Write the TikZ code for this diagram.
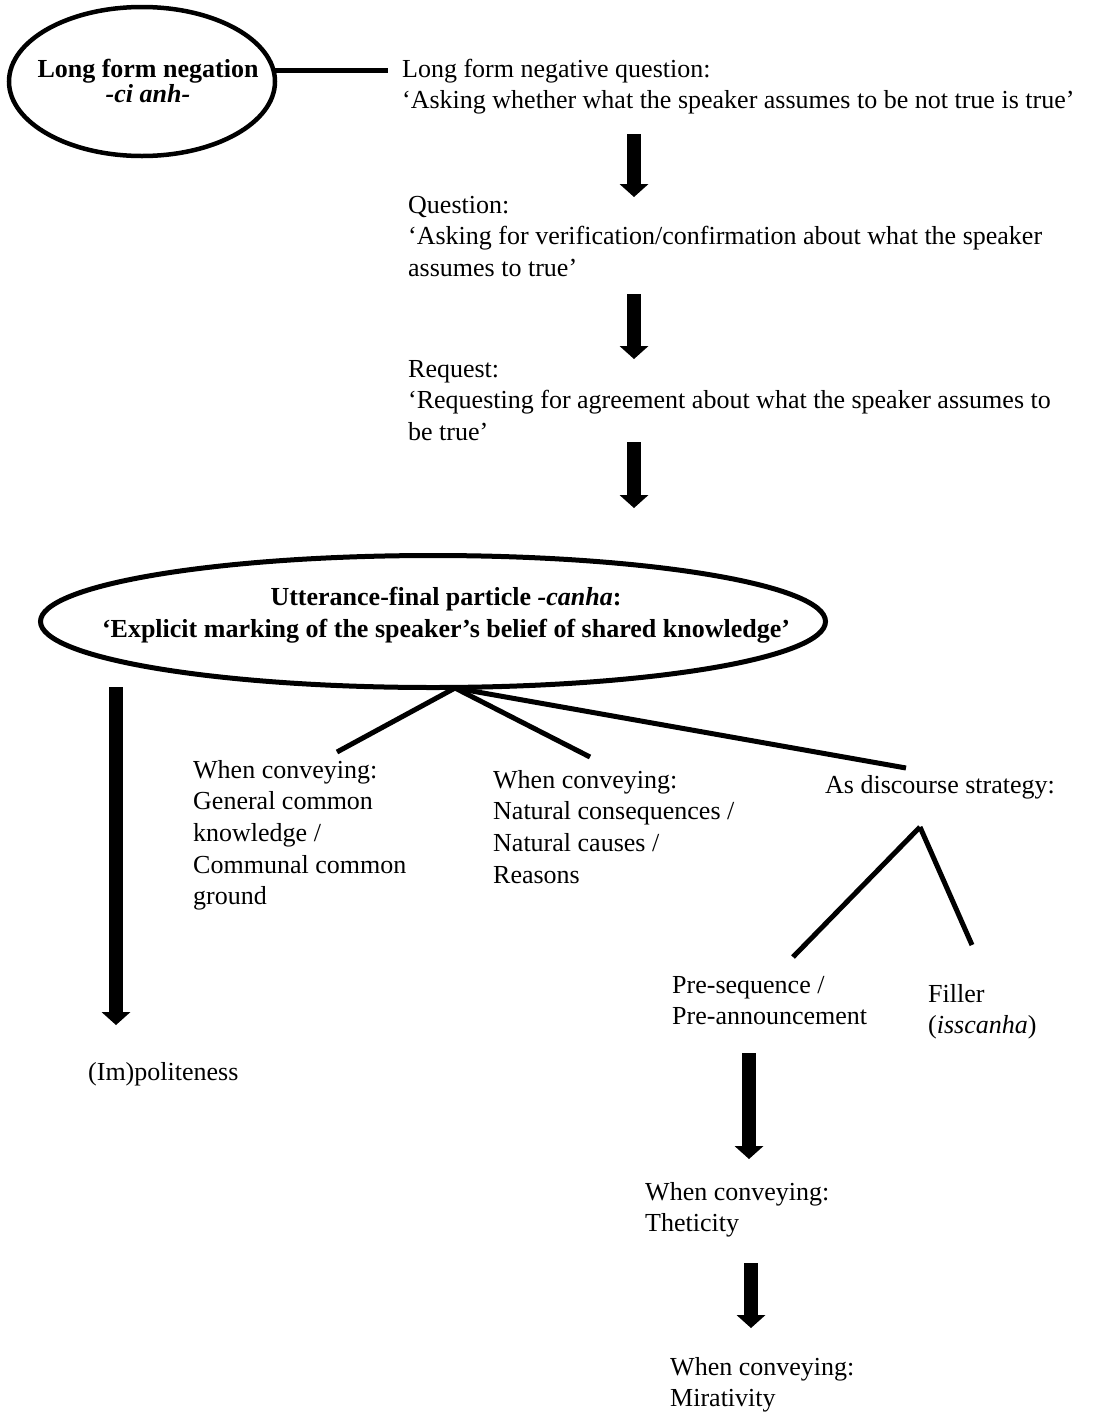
\documentclass[tikz,border=0pt]{standalone}
\usepackage{fontspec}
\setmainfont{Liberation Serif}
\usetikzlibrary{shapes.geometric,arrows.meta,calc}
\newcommand\fs{\fontsize{26pt}{31.7pt}\selectfont}
\newcommand\txtlines[1]{\begin{tabular}[t]{@{}l@{}}#1\end{tabular}}
\newcommand\ctrlines[1]{\begin{tabular}[t]{@{}c@{}}#1\end{tabular}}
\begin{document}
\begin{tikzpicture}[x=1pt,y=-1pt,
  txt/.style={anchor=base west,inner sep=0pt,font=\fs},
  ctxt/.style={anchor=base,inner sep=0pt},
  oval/.style={ellipse,draw,inner sep=0pt},
  link/.style={line width=5pt},
  bigarrow/.style={line width=14pt,-{Triangle[length=13pt,width=29pt,line width=0pt]}}]
\useasboundingbox (0,0) rectangle (1096,1414);
\fill[white] (0,0) rectangle (1096,1414);

% ---- upper chain ----
\node[oval,line width=4.5pt,minimum width=266pt,minimum height=149pt] (neg) at (142,81.5) {};
\node[ctxt,font=\fontsize{26pt}{25pt}\selectfont\bfseries] (negtext) at (148,77)
  {\ctrlines{Long form negation\\\textit{-ci anh-}}};

\node[txt] (q1) at (402,77)
  {\txtlines{Long form negative question:\\‘Asking whether what the speaker assumes to be not true is true’}};
\node[txt] (q2) at (408,213)
  {\txtlines{Question:\\‘Asking for verification/confirmation about what the speaker\\assumes to true’}};
\node[txt] (q3) at (408,377)
  {\txtlines{Request:\\‘Requesting for agreement about what the speaker assumes to\\be true’}};

\draw[link] ($(neg.east)+(-3,-11.5)$) -- ($(q1.base west)+(-14,-7)$);

\coordinate (a1s) at (634,134); \coordinate (a1e) at (634,197);
\coordinate (a2s) at (634,294); \coordinate (a2e) at (634,359);
\coordinate (a3s) at (634,442); \coordinate (a3e) at (634,508);
\draw[bigarrow] (a1s) -- (a1e);
\draw[bigarrow] (a2s) -- (a2e);
\draw[bigarrow] (a3s) -- (a3e);

% ---- central particle ----
\node[oval,line width=5pt,minimum width=785pt,minimum height=132pt] (ufp) at (433,621.5) {};
\node[ctxt,font=\fontsize{26pt}{32pt}\selectfont\bfseries] (ufptext) at (446,605)
  {\ctrlines{Utterance-final particle \textit{-canha}:\\‘Explicit marking of the speaker’s belief of shared knowledge’}};

% ---- left branch ----
\node[txt] (imp) at (88,1080) {(Im)politeness};
\coordinate (lts) at (116,687); \coordinate (lte) at (116,1025);
\draw[bigarrow] (lts) -- (lte);

% ---- fan of uses ----
\node[txt] (wc1) at (193,778)
  {\txtlines{When conveying:\\General common\\knowledge /\\Communal common\\ground}};
\node[txt] (wc2) at (493,788)
  {\txtlines{When conveying:\\Natural consequences /\\Natural causes /\\Reasons}};
\node[txt] (ds) at (825,793) {As discourse strategy:};

\coordinate (apex) at (455,688);
\coordinate (b1) at (337,752);
\coordinate (b2) at (590,757);
\coordinate (b3) at (906,768);
\draw[link] (apex) -- (b1);
\draw[link] (apex) -- (b2);
\draw[link] (apex) -- (b3);

% ---- discourse strategy ----
\node[txt] (pre) at (672,993) {\txtlines{Pre-sequence /\\Pre-announcement}};
\node[txt] (fil) at (928,1002) {\txtlines{Filler\\(\textit{isscanha})}};
\coordinate (dsapex) at (920,827);
\coordinate (d1) at (793,957);
\coordinate (d2) at (972,945);
\draw[link] (dsapex) -- (d1);
\draw[link] (dsapex) -- (d2);

\node[txt] (thet) at (645,1200) {\txtlines{When conveying:\\Theticity}};
\node[txt] (mir) at (670,1375) {\txtlines{When conveying:\\Mirativity}};
\coordinate (a4s) at (749,1053); \coordinate (a4e) at (749,1159);
\coordinate (a5s) at (751,1263); \coordinate (a5e) at (751,1328);
\draw[bigarrow] (a4s) -- (a4e);
\draw[bigarrow] (a5s) -- (a5e);
\end{tikzpicture}
\end{document}
